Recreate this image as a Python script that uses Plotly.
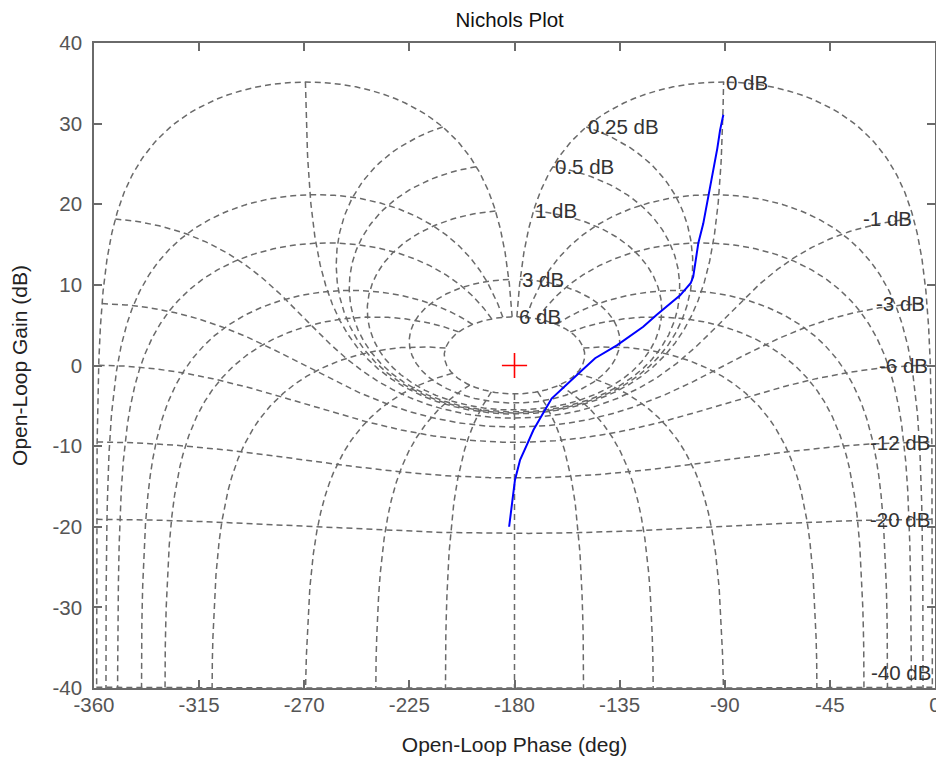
import numpy as np
import plotly.graph_objects as go

# ---- Open-loop frequency response ----
ol_phase_deg = [-90.6, -92.0, -93.2, -95.6, -97.0, -99.2, -101.3, -103.5, -104.6,
                -109.1, -119.1, -124.9, -136.2, -145.5, -151.9, -155.5, -164.1,
                -167.7, -171.9, -174.8, -177.6, -179.8, -180.8, -181.6, -182.3]
ol_gain_db = [31.1, 29.2, 26.9, 23.0, 20.9, 17.6, 15.2, 11.0, 10.2,
              8.7, 6.3, 4.8, 2.5, 0.9, -0.8, -1.8, -4.1,
              -5.9, -8.0, -9.9, -11.7, -14.2, -16.3, -18.3, -20.0]

# ---- Nichols grid levels ----
cl_gain_levels_db = [6, 3, 1, 0.5, 0.25, 0, -1, -3, -6, -12, -20, -40]
cl_phase_levels_deg = [1, 5, 10, 20, 30, 50, 90, 120, 150, 180, 210, 240, 270,
                       310, 330, 340, 350, 355, 359]

# ---- Axes ----
x_ticks = [-360, -315, -270, -225, -180, -135, -90, -45, 0]
x_tick_labels = ["-360", "-315", "-270", "-225", "-180", "-135", "-90", "-45", "0"]
y_ticks = [-40, -30, -20, -10, 0, 10, 20, 30, 40]
y_tick_labels = ["-40", "-30", "-20", "-10", "0", "10", "20", "30", "40"]
x_range = [-360, 0]
y_range = [-40, 40]

GRID_COLOR = "#6a6a6a"
AX_COLOR = "#6a6a6a"
FONT = "Liberation Sans, Arial, sans-serif"


def open_loop(M, p_deg):
    T = M * np.exp(1j * np.deg2rad(p_deg))
    H = T / (1 - T)
    gain = 20 * np.log10(np.abs(H))
    phase = np.mod(np.rad2deg(np.angle(H)), 360) - 360
    return phase, gain


fig = go.Figure()

# closed-loop gain (M) contours
p_samples = np.linspace(1, 359, 1433)
for g in cl_gain_levels_db:
    ph, ga = open_loop(10 ** (g / 20), p_samples)
    fig.add_trace(go.Scatter(x=ph, y=ga, mode="lines", hoverinfo="skip",
                             line=dict(color=GRID_COLOR, width=1.5, dash="6px,4px"),
                             showlegend=False))

# closed-loop phase contours
g_samples = np.linspace(max(cl_gain_levels_db), -60, 3301)
for p in cl_phase_levels_deg:
    ph, ga = open_loop(10 ** (g_samples / 20), p)
    fig.add_trace(go.Scatter(x=ph, y=ga, mode="lines", hoverinfo="skip",
                             line=dict(color=GRID_COLOR, width=1.5, dash="6px,4px"),
                             showlegend=False))

# gain contour labels at the crossing with the 359 deg phase contour
for g in cl_gain_levels_db:
    ph, ga = open_loop(10 ** (g / 20), 359.0)
    ga = max(float(ga), y_range[0] + 1.9)
    fig.add_annotation(x=float(ph), y=ga, text=f"{g:g} dB", showarrow=False,
                       xanchor="left" if g >= 0 else "right", yanchor="middle",
                       font=dict(family=FONT, size=20.5, color="#333333"),
                       bgcolor="rgba(0,0,0,0)")

# open-loop response
fig.add_trace(go.Scatter(x=ol_phase_deg, y=ol_gain_db, mode="lines",
                         line=dict(color="#0000ff", width=2), showlegend=False))

# critical point
fig.add_trace(go.Scatter(x=[-180], y=[0], mode="markers", showlegend=False,
                         marker=dict(symbol="cross-thin", size=18,
                                     line=dict(color="#ff0000", width=1.6))))

axis_common = dict(showline=True, linecolor=AX_COLOR, linewidth=1.5, mirror="ticks",
                   ticks="inside", ticklen=8, tickwidth=1.5, tickcolor=AX_COLOR,
                   showgrid=False, zeroline=False, automargin=False,
                   tickfont=dict(family=FONT, size=20.5, color="#555555"))

# the page body adds an 8px offset, so the figure is 8px smaller than the window
fig.update_layout(
    width=936, height=754,
    margin=dict(l=86, r=9, t=35, b=74),
    paper_bgcolor="white", plot_bgcolor="white",
    title=dict(text="Nichols Plot", x=0.536, xanchor="center", y=1 - 12 / 754,
               yanchor="middle", font=dict(family=FONT, size=20.5, color="#111111")),
    xaxis=dict(range=x_range, tickvals=x_ticks, ticktext=x_tick_labels,
               ticklabelstandoff=-2,
               title=dict(text="Open-Loop Phase (deg)", standoff=22,
                          font=dict(family=FONT, size=21, color="#222222")),
               **axis_common),
    yaxis=dict(range=y_range, tickvals=y_ticks, ticktext=y_tick_labels,
               ticklabelstandoff=6,
               title=dict(text="Open-Loop Gain (dB)", standoff=25,
                          font=dict(family=FONT, size=21, color="#222222")),
               **axis_common),
)

fig.write_html("out.html")
